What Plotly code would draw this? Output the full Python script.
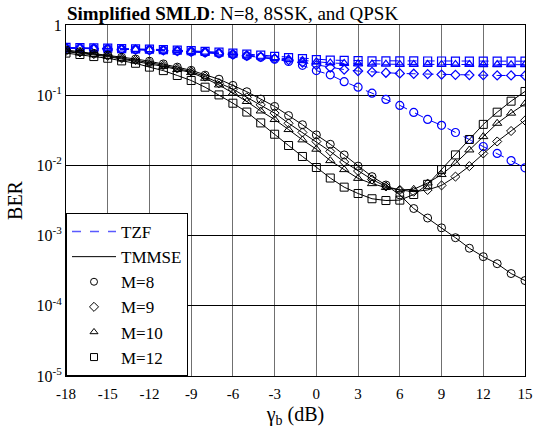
import plotly.graph_objects as go

# SNR per bit (dB)
snr_db = list(range(-18, 16))

# BER, transmit MMSE precoding
ber_tmmse_m8 = [0.441, 0.417, 0.395, 0.374, 0.347, 0.328, 0.305, 0.279, 0.251, 0.226,
                0.193, 0.169, 0.138, 0.112, 0.0881, 0.0692, 0.0513, 0.0380, 0.0272,
                0.0200, 0.0141, 0.00977, 0.00692, 0.00525, 0.00380, 0.00243, 0.00178,
                0.00129, 0.000933, 0.000661, 0.000501, 0.000398, 0.000288, 0.000229]
ber_tmmse_m9 = [0.427, 0.407, 0.385, 0.363, 0.335, 0.316, 0.292, 0.266, 0.240, 0.217,
                0.184, 0.148, 0.122, 0.0933, 0.0728, 0.0555, 0.0398, 0.0295, 0.0219,
                0.0158, 0.0112, 0.00832, 0.00631, 0.00501, 0.00447, 0.00422, 0.00447,
                0.00519, 0.00692, 0.00977, 0.0148, 0.0219, 0.0309, 0.0437]
ber_tmmse_m10 = [0.417, 0.398, 0.376, 0.355, 0.327, 0.305, 0.279, 0.257, 0.232, 0.210,
                 0.174, 0.140, 0.107, 0.0813, 0.0596, 0.0450, 0.0324, 0.0231, 0.0170,
                 0.0117, 0.00871, 0.00653, 0.00550, 0.00484, 0.00447, 0.00457, 0.00562,
                 0.00741, 0.0107, 0.0166, 0.0257, 0.0398, 0.0555, 0.0752]
ber_tmmse_m12 = [0.398, 0.380, 0.355, 0.336, 0.308, 0.285, 0.251, 0.224, 0.191, 0.162,
                 0.130, 0.101, 0.0769, 0.0575, 0.0403, 0.0278, 0.0192, 0.0134, 0.00933,
                 0.00661, 0.00490, 0.00398, 0.00335, 0.00316, 0.00320, 0.00385, 0.00537,
                 0.00871, 0.0141, 0.0234, 0.0384, 0.0573, 0.0822, 0.113]

# BER, transmit zero-forcing precoding
ber_tzf_m8 = [0.468, 0.468, 0.462, 0.457, 0.452, 0.447, 0.442, 0.437, 0.427, 0.417,
              0.407, 0.394, 0.380, 0.363, 0.347, 0.325, 0.302, 0.266, 0.224, 0.195,
              0.156, 0.130, 0.107, 0.0871, 0.0716, 0.0569, 0.0452, 0.0372, 0.0294,
              0.0234, 0.0186, 0.0148, 0.0117, 0.00923]
ber_tzf_m9 = [0.468, 0.466, 0.460, 0.455, 0.450, 0.445, 0.440, 0.434, 0.425, 0.415,
              0.406, 0.394, 0.380, 0.365, 0.351, 0.331, 0.316, 0.292, 0.269, 0.248,
              0.232, 0.221, 0.214, 0.209, 0.204, 0.202, 0.1995, 0.197, 0.195, 0.194,
              0.193, 0.191, 0.191, 0.190]
ber_tzf_m10 = [0.473, 0.471, 0.466, 0.460, 0.455, 0.450, 0.445, 0.439, 0.431, 0.422,
               0.412, 0.400, 0.387, 0.373, 0.359, 0.343, 0.327, 0.313, 0.299, 0.288,
               0.283, 0.280, 0.278, 0.277, 0.275, 0.275, 0.274, 0.274, 0.274, 0.274,
               0.273, 0.273, 0.272, 0.272]
ber_tzf_m12 = [0.479, 0.476, 0.472, 0.468, 0.462, 0.457, 0.452, 0.447, 0.439, 0.431,
               0.422, 0.410, 0.398, 0.385, 0.372, 0.357, 0.343, 0.331, 0.322, 0.316,
               0.313, 0.310, 0.309, 0.308, 0.308, 0.308, 0.307, 0.307, 0.306, 0.306,
               0.305, 0.305, 0.305, 0.305]

x_ticks = list(range(-18, 16, 3))
x_ticktext = [str(v) for v in x_ticks]
y_tickvals = [1e-5, 1e-4, 1e-3, 1e-2, 1e-1, 1]
y_ticktext = ["10<sup>-5</sup>", "10<sup>-4</sup>", "10<sup>-3</sup>",
              "10<sup>-2</sup>", "10<sup>-1</sup>", "1"]

symbols = {"M=8": "circle-open", "M=9": "diamond-open",
           "M=10": "triangle-up-open", "M=12": "square-open"}
marker_size = {"M=8": 8, "M=9": 7, "M=10": 8, "M=12": 8}

FONT = "Liberation Serif, Times New Roman, serif"
BLUE = "#0000ff"

fig = go.Figure()

tzf = {"M=8": ber_tzf_m8, "M=9": ber_tzf_m9, "M=10": ber_tzf_m10, "M=12": ber_tzf_m12}
tmmse = {"M=8": ber_tmmse_m8, "M=9": ber_tmmse_m9, "M=10": ber_tmmse_m10, "M=12": ber_tmmse_m12}

for m, ber in tzf.items():
    fig.add_trace(go.Scatter(
        x=snr_db, y=ber, mode="lines+markers", showlegend=False,
        line=dict(color=BLUE, width=1, dash="dash"),
        marker=dict(symbol=symbols[m], size=marker_size[m], color=BLUE,
                    line=dict(color=BLUE, width=1.2)),
    ))

for m, ber in tmmse.items():
    fig.add_trace(go.Scatter(
        x=snr_db, y=ber, mode="lines+markers", showlegend=False,
        line=dict(color="black", width=1),
        marker=dict(symbol=symbols[m], size=marker_size[m], color="black",
                    line=dict(color="black", width=1)),
    ))

# Legend entries: precoder line styles, then marker shapes per M
fig.add_trace(go.Scatter(x=[None], y=[None], mode="lines", name="TZF",
                         line=dict(color="#5a5aff", width=1.5, dash="dash")))
fig.add_trace(go.Scatter(x=[None], y=[None], mode="lines", name="TMMSE",
                         line=dict(color="black", width=1)))
for m in ["M=8", "M=9", "M=10", "M=12"]:
    fig.add_trace(go.Scatter(x=[None], y=[None], mode="markers", name=m,
                             marker=dict(symbol=symbols[m], size=7, color="black",
                                         line=dict(color="black", width=1))))

fig.update_layout(
    width=541, height=430,
    margin=dict(l=66, r=8, t=25, b=54),
    paper_bgcolor="white", plot_bgcolor="white",
    font=dict(family=FONT, color="black", size=16),
    title=dict(text="<b>Simplified SMLD</b>: N=8, 8SSK, and QPSK",
               x=67 / 541, xanchor="left", xref="container",
               y=1 - 13 / 430, yanchor="middle", yref="container",
               font=dict(family=FONT, size=19, color="black")),
    xaxis=dict(range=[-18, 15], tickvals=x_ticks, ticktext=x_ticktext, ticks="",
               ticklabelstandoff=4,
               showgrid=True, gridcolor="#707070", gridwidth=1,
               showline=True, linecolor="black", linewidth=1, mirror=True,
               zeroline=False, tickfont=dict(size=15),
               title=dict(text="γ<sub>b</sub> (dB)", font=dict(size=20), standoff=5)),
    yaxis=dict(type="log", range=[-5, 0], tickvals=y_tickvals, ticktext=y_ticktext,
               ticks="", showgrid=True, gridcolor="black", gridwidth=1,
               showline=True, linecolor="black", linewidth=1, mirror=True,
               zeroline=False, tickfont=dict(size=16),
               title=dict(text="BER", font=dict(size=20), standoff=8)),
    legend=dict(x=0, y=0, xanchor="left", yanchor="bottom",
                bgcolor="white", bordercolor="black", borderwidth=1,
                font=dict(family=FONT, size=17), itemwidth=44,
                tracegroupgap=0, traceorder="normal"),
)

fig.write_html("out.html")
